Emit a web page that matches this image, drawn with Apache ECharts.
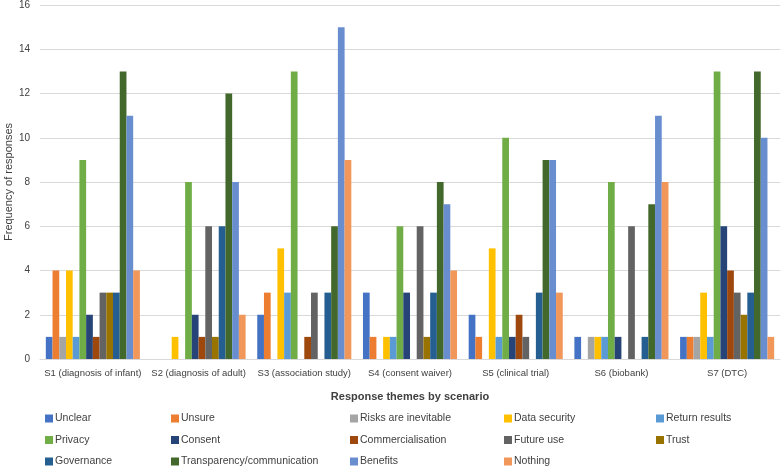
<!DOCTYPE html>
<html><head><meta charset="utf-8">
<script src="https://cdn.jsdelivr.net/npm/echarts@6/dist/echarts.min.js"></script>
<style>html,body{margin:0;padding:0;background:#fff}#c{width:784px;height:468px}</style>
</head><body><div id="c"></div>
<script>
const categories = ["S1 (diagnosis of infant)","S2 (diagnosis of adult)","S3 (association study)","S4 (consent waiver)","S5 (clinical trial)","S6 (biobank)","S7 (DTC)"];
const seriesNames = ["Unclear","Unsure","Risks are inevitable","Data security","Return results","Privacy","Consent","Commercialisation","Future use","Trust","Governance","Transparency/communication","Benefits","Nothing"];
const unclear        = [1,0,2,3,2,1,1];
const unsure         = [4,0,3,1,1,0,1];
const risks          = [1,0,0,0,0,1,1];
const dataSecurity   = [4,1,5,1,5,1,3];
const returnResults  = [1,0,3,1,1,1,1];
const privacy        = [9,8,13,6,10,8,13];
const consent        = [2,2,0,3,1,1,6];
const commercial     = [1,1,1,0,2,0,4];
const futureUse      = [3,6,3,6,1,6,3];
const trust          = [3,1,0,1,0,0,2];
const governance     = [3,6,3,3,3,1,3];
const transparency   = [13,12,6,8,9,7,13];
const benefits       = [11,8,15,7,9,11,10];
const nothing        = [4,2,9,4,3,8,1];
const yTicks = [0,2,4,6,8,10,12,14,16];

const values = [unclear,unsure,risks,dataSecurity,returnResults,privacy,consent,commercial,futureUse,trust,governance,transparency,benefits,nothing];
const colors = ["#4472C4","#ED7D31","#A5A5A5","#FFC000","#5B9BD5","#70AD47","#264478","#9E480E","#636363","#997300","#255E91","#43682B","#698ED0","#F1975A"];
const font = "'Liberation Sans', sans-serif";

const series = seriesNames.map((n,i)=>({
  name:n, type:'bar', data:values[i], barGap:'0%', barCategoryGap:'11%',
  itemStyle:{color:colors[i]}
}));

const colX = [45,171,350,504,656];
const legends = colX.map((x,c)=>({
  orient:'vertical', left:x, top:413, itemWidth:8, itemHeight:8, itemGap:10.5,
  icon:'rect', selectedMode:false, padding:0,
  textStyle:{fontFamily:font, fontSize:10.5, color:'#404040', padding:[0,0,0,-3]},
  data:[0,1,2].map(r=>seriesNames[r*5+c]).filter(Boolean)
}));

const chart = echarts.init(document.getElementById('c'));
chart.setOption({
  animation:false,
  color:colors,
  grid:{left:40,right:4,top:5,bottom:109,containLabel:false,outerBoundsMode:'none'},
  legend:legends,
  xAxis:{type:'category', data:categories,
    axisLine:{lineStyle:{color:'#d9d9d9'}}, axisTick:{show:false},
    axisLabel:{fontFamily:font, fontSize:9.5, color:'#404040', margin:9, interval:0},
    name:'Response themes by scenario', nameLocation:'middle', nameGap:32, nameMoveOverlap:false,
    nameTextStyle:{fontFamily:font, fontSize:11, fontWeight:'bold', color:'#404040'}},
  yAxis:{type:'value', min:yTicks[0], max:yTicks[yTicks.length-1], interval:2,
    axisLine:{show:false}, axisTick:{show:false},
    splitLine:{lineStyle:{color:'#d9d9d9'}},
    axisLabel:{fontFamily:font, fontSize:10, color:'#404040', margin:10},
    name:'Frequency of responses', nameLocation:'middle', nameGap:26, nameMoveOverlap:false,
    nameTextStyle:{fontFamily:font, fontSize:11, color:'#404040'}},
  series:series
});
</script></body></html>
